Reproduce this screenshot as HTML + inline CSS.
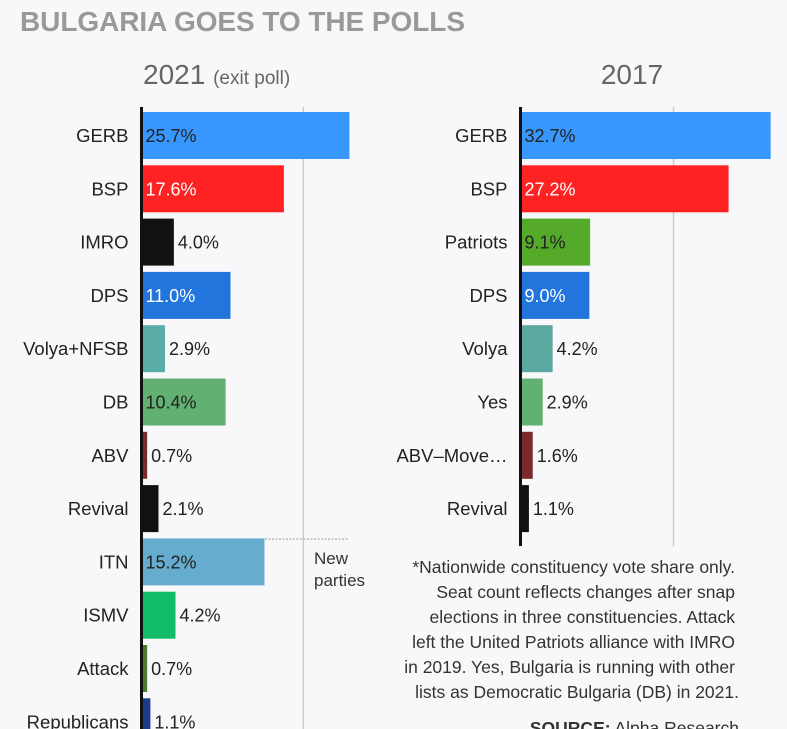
<!DOCTYPE html>
<html><head><meta charset="utf-8"><style>
body{margin:0;background:#f8f8fa;font-family:"Liberation Sans",sans-serif}
svg{display:block}
</style></head><body>
<svg id="c" width="787" height="729" font-family="Liberation Sans, sans-serif">
<rect width="787" height="729" fill="#f8f8fa"/>
<text x="20" y="31" font-size="28" font-weight="bold" fill="#999" textLength="445">BULGARIA GOES TO THE POLLS</text>
<text x="143" y="84" font-size="28" fill="#666">2021 <tspan font-size="19">(exit poll)</tspan></text>
<text x="632" y="84" font-size="28" fill="#666" text-anchor="middle">2017</text>
<g id="g1"></g><g id="g2"></g>
<line x1="265" y1="539" x2="348" y2="539" stroke="#999" stroke-dasharray="2,1.5"/>
<text x="314" y="564" font-size="17" fill="#333"><tspan x="314">New</tspan><tspan x="314" dy="22">parties</tspan></text>
<g font-size="17.5" fill="#333" text-anchor="end">
<text x="735" y="573">*Nationwide constituency vote share only.</text>
<text x="735" y="598">Seat count reflects changes after snap</text>
<text x="735" y="623">elections in three constituencies. Attack</text>
<text x="735" y="648">left the United Patriots alliance with IMRO</text>
<text x="735" y="673">in 2019. Yes, Bulgaria is running with other</text>
<text x="739" y="698">lists as Democratic Bulgaria (DB) in 2021.</text>
<text x="739" y="734"><tspan font-weight="bold">SOURCE:</tspan> Alpha Research</text>
</g>
</svg>
<script>
const parties2021=["GERB","BSP","IMRO","DPS","Volya+NFSB","DB","ABV","Revival","ITN","ISMV","Attack","Republicans"];
const values2021=[25.7,17.6,4.0,11.0,2.9,10.4,0.7,2.1,15.2,4.2,0.7,1.1];
const colors2021=["#3797fd","#ff2222","#111111","#2275dd","#5aada6","#62b072","#7a2a2a","#111111","#66acce","#12bb66","#4a7a2a","#1a3a8a"];
const white2021=[false,true,false,true,false,false,false,false,false,false,false,false];
const parties2017=["GERB","BSP","Patriots","DPS","Volya","Yes","ABV–Move…","Revival"];
const values2017=[32.7,27.2,9.1,9.0,4.2,2.9,1.6,1.1];
const colors2017=["#3797fd","#ff2222","#55aa2a","#2275dd","#5aa8a0","#62b072","#7a2a2a","#111111"];
const white2017=[false,true,false,true,false,false,false,false];
const NS="http://www.w3.org/2000/svg";
function mk(p,t,a){const e=document.createElementNS(NS,t);for(const k in a)e.setAttribute(k,a[k]);p.appendChild(e);return e;}
function panel(g,x0,pxPer,parties,vals,cols,white,axisEnd,tag){
  const x=v=>x0+v*pxPer, y=i=>112+i*53.3;
  const gl=mk(g,"line",{x1:x(20),x2:x(20),y1:107,y2:axisEnd,stroke:"#ccc","stroke-width":1.5});
  
  
  parties.forEach((p,i)=>{
    const r=mk(g,"rect",{x:x0,y:y(i),width:x(vals[i])-x0,height:47,fill:cols[i]});
    
    
    const l=mk(g,"text",{x:x0-13,y:y(i)+30,"font-size":18.5,fill:"#222","text-anchor":"end"});l.textContent=p;
    
    
    const w=x(vals[i])-x0, inside=w>60;
    const v=mk(g,"text",{x:inside?x0+4:x(vals[i])+4,y:y(i)+30,"font-size":18,fill:white[i]?"#fff":"#222"});
    v.textContent=vals[i].toFixed(1)+"%";
    
    
  });
  const ax=mk(g,"line",{x1:x0,x2:x0,y1:107,y2:axisEnd,stroke:"#111","stroke-width":3});
  
  
}
panel(document.getElementById("g1"),141.5,8.09,parties2021,values2021,colors2021,white2021,729,"2021");
panel(document.getElementById("g2"),520.5,7.65,parties2017,values2017,colors2017,white2017,546,"2017");
</script>
</body></html>
